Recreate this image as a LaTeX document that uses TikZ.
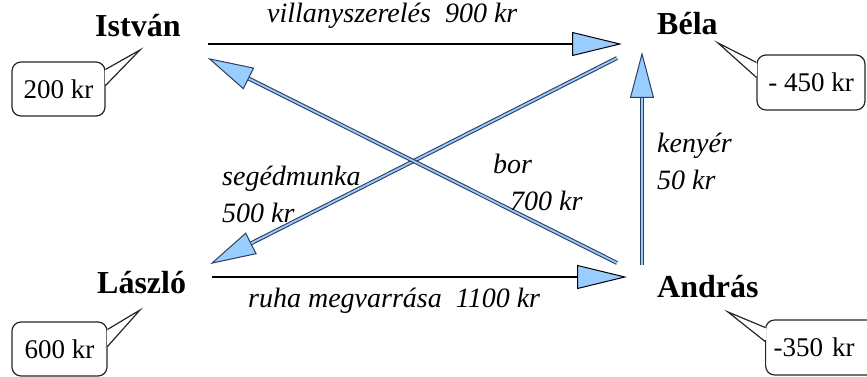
\documentclass[tikz,border=0pt]{standalone}
\usepackage{fontspec}
\setmainfont{Liberation Serif}
\usetikzlibrary{arrows.meta}

\definecolor{tipblue}{RGB}{153,204,255}
\definecolor{pipedark}{RGB}{45,62,95}

\tikzset{
		person/.style={font=\fontsize{32}{38}\selectfont\bfseries, inner sep=0, anchor=base west},
		deal/.style={font=\fontsize{28}{37}\selectfont\itshape, inner sep=0, align=left},
		balance/.style={draw=black!85, line width=1.2pt, rounded corners=9pt, inner sep=0, font=\fontsize{27}{32}\selectfont},
		pointer/.style={black!85, line width=1.2pt},
		flow/.style={black, line width=2pt, -{Triangle[length=50pt, width=24pt, fill=tipblue, line width=1pt]}},
		pipe/.style={pipedark, line width=4pt, -{Triangle[length=46pt, width=24pt, fill=tipblue, line width=1pt]}, postaction={draw=tipblue, line width=1.8pt, shorten >=46pt, -}}
	}

\begin{document}
\begin{tikzpicture}[x=1pt, y=-1pt]
	
	\useasboundingbox (0,0) rectangle (867,377);
	
	\node (istvan) at (95,37) [person] {István};
	\node (bela) at (657,35) [person] {Béla};
	\node (laszlo) at (97,293) [person] {László};
	\node (andras) at (657,297) [person] {András};
	
	\draw [flow] ([shift={(27,7)}]istvan.base east) -- ([shift={(-35,9)}]bela.base west);
	\draw [flow] ([shift={(26,-16)}]laszlo.base east) -- ([shift={(-30,-20)}]andras.base west);
	\draw [pipe] ([shift={(-15,-32)}]andras.base west) -- ([shift={(-15,17)}]bela.base west);
	\draw [pipe] ([shift={(-40,23)}]bela.base west) -- ([shift={(24,-29)}]laszlo.base east);
	\draw [pipe] ([shift={(-40,-34)}]andras.base west) -- ([shift={(27,21)}]istvan.base east);
	
	\node (villany) at (267,23) [deal, anchor=base west] {villanyszerelés\ \ 900 kr};
	\node (ruha) at (248,307) [deal, anchor=base west] {ruha megvarrása\ \ 1100 kr};
	\node (kenyer) at (657,133) [deal, anchor=north west] {kenyér\\50 kr};
	\node (munka) at (222,166) [deal, anchor=north west] {segédmunka\\500 kr};
	\node (bor) at (493,154) [deal, anchor=north west] {bor\\\hspace*{17pt}700 kr};
	
	\node (istvanbox) at (58.5,89) [balance, minimum width=93pt, minimum height=54pt] {200 kr};
	\node (belabox) at (811,82.5) [balance, minimum width=108pt, minimum height=55pt] {- 450 kr};
	\node (laszlobox) at (59.5,349) [balance, minimum width=95pt, minimum height=54pt] {600 kr};
	\node (andrasbox) at (765,347.5) [balance, anchor=west, text width=94pt, inner xsep=8pt, minimum height=55pt] {-350 kr};
	
	\coordinate (istvantip) at (140,50);
	\coordinate (belatip) at (718,43);
	\coordinate (laszlotip) at (140,310);
	\coordinate (andrastip) at (728,312);
	
	\draw [white, line width=2pt] ([yshift=-9pt]istvanbox.north east) -- ([yshift=-23pt]istvanbox.north east);
	\draw [pointer] ([yshift=-8pt]istvanbox.north east) -- (istvantip) -- ([yshift=-24pt]istvanbox.north east);
	\draw [white, line width=2pt] ([yshift=-9pt]belabox.north west) -- ([yshift=-22pt]belabox.north west);
	\draw [pointer] ([yshift=-8pt]belabox.north west) -- (belatip) -- ([yshift=-23pt]belabox.north west);
	\draw [white, line width=2pt] ([yshift=-9pt]laszlobox.north east) -- ([yshift=-24pt]laszlobox.north east);
	\draw [pointer] ([yshift=-8pt]laszlobox.north east) -- (laszlotip) -- ([yshift=-25pt]laszlobox.north east);
	\draw [white, line width=2pt] ([yshift=-9pt]andrasbox.north west) -- ([yshift=-21pt]andrasbox.north west);
	\draw [pointer] ([yshift=-8pt]andrasbox.north west) -- (andrastip) -- ([yshift=-22pt]andrasbox.north west);
	
\end{tikzpicture}
\end{document}
